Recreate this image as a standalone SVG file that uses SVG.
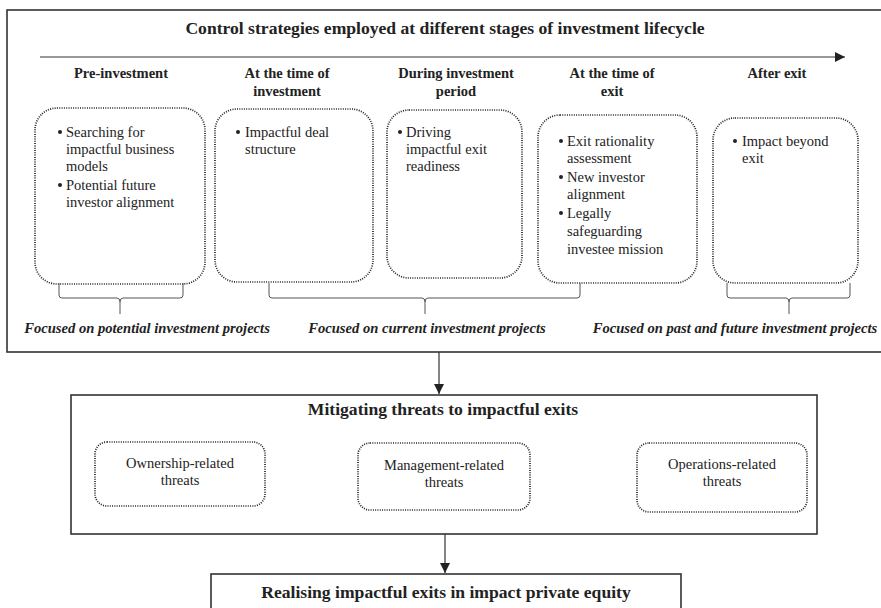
<svg xmlns="http://www.w3.org/2000/svg" width="881" height="608" viewBox="0 0 881 608">
<defs>
<marker id="ah" viewBox="0 0 10 10" refX="10" refY="5" markerWidth="10" markerHeight="10" markerUnits="userSpaceOnUse" orient="auto">
<path d="M0,0 L10,5 L0,10 z" fill="#222"/>
</marker>
<style>
text{font-family:"Liberation Serif","Times New Roman",serif;fill:#222}
.t{font-weight:bold;font-size:17.6px}
.h{font-weight:bold;font-size:14.5px;text-anchor:middle}
.b{font-size:14.5px}
.f{font-weight:bold;font-style:italic;font-size:14.6px}
.c{font-size:14.5px;text-anchor:middle}
.frame{fill:none;stroke:#333;stroke-width:1.6}
.dot{fill:none;stroke:#222;stroke-width:1.7;stroke-dasharray:1 1.3}
.brace{fill:none;stroke:#555;stroke-width:1}
.ln{stroke:#333;stroke-width:1.2;fill:none}
</style>
</defs>
<rect fill="#fff" x="0" y="0" width="881" height="608"/>

<g id="stages-panel">
<rect class="frame" x="7" y="10" width="880" height="342"/>
<text class="t" x="445" y="34" text-anchor="middle">Control strategies employed at different stages of investment lifecycle</text>
<text class="h" x="121" y="78">Pre-investment</text>
<text class="h" x="287" y="78">At the time of</text>
<text class="h" x="287" y="96">investment</text>
<text class="h" x="456" y="78">During investment</text>
<text class="h" x="456" y="96">period</text>
<text class="h" x="612" y="78">At the time of</text>
<text class="h" x="612" y="96">exit</text>
<text class="h" x="777" y="78">After exit</text>
</g>

<g id="stage-pre">
<rect class="dot" x="35" y="108" width="170" height="176" rx="22"/>
<circle cx="60" cy="132" r="2" fill="#222"/>
<text class="b" x="66" y="137">Searching for</text>
<text class="b" x="66" y="154">impactful business</text>
<text class="b" x="66" y="171">models</text>
<circle cx="60" cy="185" r="2" fill="#222"/>
<text class="b" x="66" y="190">Potential future</text>
<text class="b" x="66" y="207">investor alignment</text>
</g>

<g id="stage-investment">
<rect class="dot" x="215" y="109" width="158" height="173" rx="22"/>
<circle cx="238" cy="132" r="2" fill="#222"/>
<text class="b" x="245" y="137">Impactful deal</text>
<text class="b" x="245" y="154">structure</text>
</g>

<g id="stage-during">
<rect class="dot" x="387" y="110" width="135" height="168" rx="22"/>
<circle cx="400" cy="132" r="2" fill="#222"/>
<text class="b" x="406" y="137">Driving</text>
<text class="b" x="406" y="154">impactful exit</text>
<text class="b" x="406" y="171">readiness</text>
</g>

<g id="stage-exit">
<rect class="dot" x="538" y="115" width="159" height="168" rx="22"/>
<circle cx="561" cy="141" r="2" fill="#222"/>
<text class="b" x="567" y="146">Exit rationality</text>
<text class="b" x="567" y="163">assessment</text>
<circle cx="561" cy="177" r="2" fill="#222"/>
<text class="b" x="567" y="182">New investor</text>
<text class="b" x="567" y="199">alignment</text>
<circle cx="561" cy="213" r="2" fill="#222"/>
<text class="b" x="567" y="218">Legally</text>
<text class="b" x="567" y="236">safeguarding</text>
<text class="b" x="567" y="254">investee mission</text>
</g>

<g id="stage-after">
<rect class="dot" x="713" y="118" width="145" height="165" rx="22"/>
<circle cx="735" cy="141" r="2" fill="#222"/>
<text class="b" x="742" y="146">Impact beyond</text>
<text class="b" x="742" y="163">exit</text>
</g>

<g id="focus-labels">
<path class="brace" d="M59,283 V295 Q59,298 62,298 H117 Q120,298 120,302 V314 M120,302 Q120,298 123,298 H180 Q183,298 183,295 V283"/>
<path class="brace" d="M269,283 V295 Q269,298 272,298 H422 Q425,298 425,302 V314 M425,302 Q425,298 428,298 H577 Q580,298 580,295 V283"/>
<path class="brace" d="M727,283 V295 Q727,298 730,298 H786 Q789,298 789,302 V314 M789,302 Q789,298 792,298 H847 Q850,298 850,295 V283"/>
<text class="f" x="147" y="333" text-anchor="middle">Focused on potential investment projects</text>
<text class="f" x="427" y="333" text-anchor="middle">Focused on current investment projects</text>
<text class="f" x="735" y="333" text-anchor="middle">Focused on past and future investment projects</text>
</g>

<g id="mitigating">
<rect class="frame" x="71" y="395" width="746" height="139"/>
<text class="t" x="443" y="415" text-anchor="middle">Mitigating threats to impactful exits</text>
</g>

<g id="threat-ownership">
<rect class="dot" x="95" y="442" width="170" height="64" rx="12"/>
<text class="c" x="180" y="468">Ownership-related</text>
<text class="c" x="180" y="485">threats</text>
</g>

<g id="threat-management">
<rect class="dot" x="358" y="443" width="172" height="67" rx="12"/>
<text class="c" x="444" y="470">Management-related</text>
<text class="c" x="444" y="487">threats</text>
</g>

<g id="threat-operations">
<rect class="dot" x="637" y="443" width="170" height="69" rx="12"/>
<text class="c" x="722" y="469">Operations-related</text>
<text class="c" x="722" y="486">threats</text>
</g>

<g id="outcome">
<rect class="frame" x="211" y="574" width="470" height="60"/>
<text class="t" x="446" y="598" text-anchor="middle">Realising impactful exits in impact private equity</text>
</g>

<g id="connectors">
<line class="ln" x1="40" y1="57" x2="845" y2="57" marker-end="url(#ah)"/>
<line class="ln" x1="439" y1="352" x2="439" y2="394" marker-end="url(#ah)"/>
<line class="ln" x1="445" y1="534" x2="445" y2="573" marker-end="url(#ah)"/>
</g>
</svg>
